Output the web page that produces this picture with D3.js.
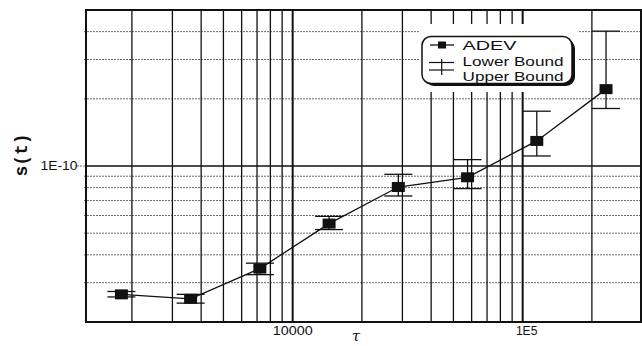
<!DOCTYPE html>
<html><head><meta charset="utf-8">
<script src="https://cdn.jsdelivr.net/npm/d3@7"></script>
<style>body{margin:0;background:#fff}</style>
</head><body>
<svg id="c" width="642" height="346"></svg>
<script>
// ---- data ----
const tau   = [1800, 3600, 7200, 14400, 28800, 57600, 115200, 230400];
const adev  = [2.66e-11, 2.54e-11, 3.47e-11, 5.52e-11, 8.05e-11, 8.9e-11, 1.295e-10, 2.21e-10];
const lower = [2.59e-11, 2.43e-11, 3.26e-11, 5.19e-11, 7.34e-11, 7.92e-11, 1.109e-10, 1.81e-10];
const upper = [2.74e-11, 2.66e-11, 3.67e-11, 5.95e-11, 9.18e-11, 1.068e-10, 1.76e-10, 4.02e-10];
const xTickValues = [10000, 100000];
const xTickLabels = ["10000", "1E5"];
const yTickValues = [1e-10];
const yTickLabels = ["1E-10"];
const legendLabels = ["ADEV", "Lower Bound", "Upper Bound"];

const svg = d3.select("#c");
const L = 86, R = 641, T = 10, B = 322;
const x = d3.scaleLog().domain([1263, 327000]).range([L, R]);
const y = d3.scaleLog().domain([2e-11, 5e-10]).range([B, T]);
const font = "'Liberation Sans', Arial, sans-serif";

svg.append("rect").attr("width", 642).attr("height", 346).attr("fill", "#fff");

// horizontal minor grid
const yMinor = y.ticks().filter(v => v > 2.01e-11 && v < 4.99e-10 && Math.abs(v - 1e-10) > 1e-13);
svg.append("g").selectAll("line").data(yMinor).join("line")
  .attr("x1", L - 2).attr("x2", R).attr("y1", d => y(d)).attr("y2", d => y(d))
  .attr("stroke", "#6a6a6a").attr("stroke-width", 1).attr("stroke-dasharray", "2,1");

// vertical grid
const xGrid = x.ticks().filter(v => v > 1300 && v < 250000);
svg.append("g").selectAll("line").data(xGrid).join("line")
  .attr("x1", d => x(d)).attr("x2", d => x(d)).attr("y1", T).attr("y2", B)
  .attr("stroke", "#111")
  .attr("stroke-width", d => xTickValues.some(t => Math.abs(t - d) < 1) ? 2 : 1.3);

// major horizontal
svg.append("g").selectAll("line").data(yTickValues).join("line")
  .attr("x1", L).attr("x2", R).attr("y1", d => y(d)).attr("y2", d => y(d))
  .attr("stroke", "#111").attr("stroke-width", 1.5);
svg.append("g").selectAll("line").data(yTickValues).join("line")
  .attr("x1", L - 9).attr("x2", L).attr("y1", d => y(d)).attr("y2", d => y(d))
  .attr("stroke", "#777").attr("stroke-width", 1).attr("stroke-dasharray", "2,1");

// legend
const lg = svg.append("g");
lg.append("rect").attr("x", 420).attr("y", 24).attr("width", 158).attr("height", 68).attr("fill", "#fff");
lg.append("rect").attr("x", 425).attr("y", 39.5).attr("width", 150).attr("height", 46.5).attr("rx", 9)
  .attr("fill", "#111");
lg.append("rect").attr("x", 422).attr("y", 36.5).attr("width", 150).attr("height", 47).attr("rx", 9)
  .attr("fill", "#fff").attr("stroke", "#111").attr("stroke-width", 1.5);
lg.append("line").attr("x1", 430).attr("x2", 454).attr("y1", 45).attr("y2", 45).attr("stroke", "#111").attr("stroke-width", 1.3);
lg.append("rect").attr("x", 438).attr("y", 41.5).attr("width", 8).attr("height", 7).attr("fill", "#111");
lg.append("line").attr("x1", 429).attr("x2", 454).attr("y1", 62.5).attr("y2", 62.5).attr("stroke", "#111").attr("stroke-width", 1.2);
lg.append("line").attr("x1", 429).attr("x2", 454).attr("y1", 70).attr("y2", 70).attr("stroke", "#111").attr("stroke-width", 1.2);
lg.append("line").attr("x1", 441.7).attr("x2", 441.7).attr("y1", 59).attr("y2", 75).attr("stroke", "#111").attr("stroke-width", 1.2);
const lgY = [49.5, 65.8, 81.2];
const lgW = [54, 101, 101];
lg.selectAll("text").data(legendLabels).join("text")
  .attr("x", 462.5).attr("y", (d, i) => lgY[i])
  .attr("textLength", (d, i) => lgW[i]).attr("lengthAdjust", "spacingAndGlyphs")
  .attr("font-family", font).attr("font-size", 13.5).attr("fill", "#111").text(d => d);

// data line
svg.append("path").datum(tau.map((t, i) => [t, adev[i]]))
  .attr("d", d3.line().x(d => x(d[0])).y(d => y(d[1])))
  .attr("fill", "none").attr("stroke", "#111").attr("stroke-width", 1.3);

// error bars
const eb = svg.append("g").attr("stroke", "#111").attr("stroke-width", 1.3);
tau.forEach((t, i) => {
  const cx = x(t);
  eb.append("line").attr("x1", cx).attr("x2", cx).attr("y1", y(upper[i])).attr("y2", y(lower[i]));
  eb.append("line").attr("x1", cx - 14).attr("x2", cx + 14).attr("y1", y(upper[i])).attr("y2", y(upper[i]));
  eb.append("line").attr("x1", cx - 14).attr("x2", cx + 14).attr("y1", y(lower[i])).attr("y2", y(lower[i]));
});

// squares
svg.append("g").selectAll("rect").data(tau).join("rect")
  .attr("x", d => x(d) - 6.5).attr("y", (d, i) => y(adev[i]) - 5)
  .attr("width", 13).attr("height", 10).attr("fill", "#111");

// border
svg.append("rect").attr("x", L).attr("y", T).attr("width", R - L).attr("height", B - T)
  .attr("fill", "none").attr("stroke", "#111").attr("stroke-width", 2);

// tick labels
const xLW = [40, 21.5];
const xOff = [0, 4];
svg.append("g").selectAll("text").data(xTickValues).join("text")
  .attr("x", (d, i) => x(d) + xOff[i]).attr("y", 334.5).attr("text-anchor", "middle")
  .attr("textLength", (d, i) => xLW[i]).attr("lengthAdjust", "spacingAndGlyphs")
  .attr("font-family", font).attr("font-size", 12).attr("fill", "#111")
  .text((d, i) => xTickLabels[i]);
svg.append("g").selectAll("text").data(yTickValues).join("text")
  .attr("x", 77.5).attr("y", d => y(d) + 4).attr("text-anchor", "end")
  .attr("textLength", 37).attr("lengthAdjust", "spacingAndGlyphs")
  .attr("font-family", font).attr("font-size", 12).attr("fill", "#111")
  .text((d, i) => yTickLabels[i]);

// axis titles
svg.append("text").attr("x", 356).attr("y", 341).attr("text-anchor", "middle")
  .attr("font-family", "'DejaVu Serif', 'Liberation Serif', serif").attr("font-style", "italic")
  .attr("font-size", 15).attr("fill", "#111").text("τ");
svg.append("text").attr("transform", "translate(27,155) rotate(-90)").attr("text-anchor", "middle")
  .attr("font-family", "'Liberation Mono', 'Courier New', monospace").attr("font-weight", "bold")
  .attr("font-size", 18).attr("fill", "#111").text("s(t)");
</script>
</body></html>
